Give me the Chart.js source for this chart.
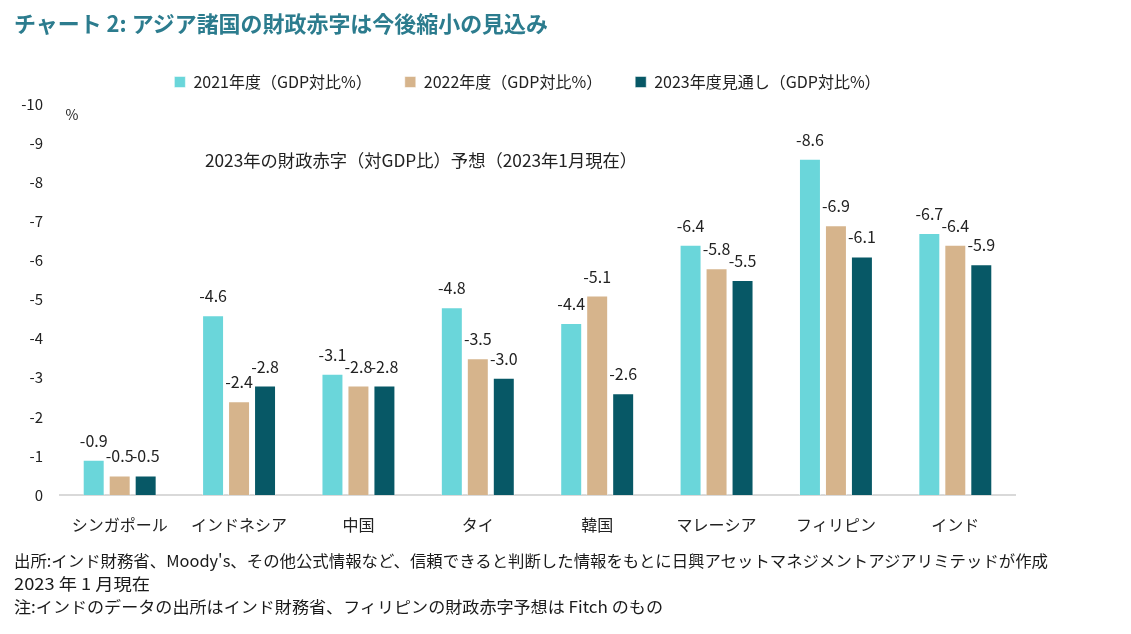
<!DOCTYPE html>
<html lang="ja">
<head>
<meta charset="utf-8">
<script src="https://cdn.jsdelivr.net/npm/chart.js@4.4.0/dist/chart.umd.min.js"></script>
<style>
  html, body { margin: 0; padding: 0; background: #fff; }
  #wrap { position: relative; width: 1131px; height: 634px; overflow: hidden; }
  #chart { position: absolute; left: 0; top: 0; }
  .txt { position: absolute; left: 14px; white-space: nowrap; transform-origin: left center; }
  #title { top: 6px; font: bold 22px "Noto Sans CJK JP", sans-serif; color: #2C7C8E; }
  .note { font: 16px "Noto Sans CJK JP", sans-serif; color: #1a1a1a; }
</style>
</head>
<body>
<div id="wrap">
  <canvas id="chart" width="1131" height="634"></canvas>
  <div id="title" class="txt" data-w="534">チャート 2: アジア諸国の財政赤字は今後縮小の見込み</div>
  <div class="txt note" style="top:548px" data-w="1034">出所:インド財務省、Moody's、その他公式情報など、信頼できると判断した情報をもとに日興アセットマネジメントアジアリミテッドが作成</div>
  <div class="txt note" style="top:571px" data-w="136">2023 年 1 月現在</div>
  <div class="txt note" style="top:594px" data-w="649">注:インドのデータの出所はインド財務省、フィリピンの財政赤字予想は Fitch のもの</div>
</div>
<script>
const countries = ['シンガポール', 'インドネシア', '中国', 'タイ', '韓国', 'マレーシア', 'フィリピン', 'インド'];
const seriesNames = ['2021年度（GDP対比%）', '2022年度（GDP対比%）', '2023年度見通し（GDP対比%）'];
const fy2021 = [-0.9, -4.6, -3.1, -4.8, -4.4, -6.4, -8.6, -6.7];
const fy2022 = [-0.5, -2.4, -2.8, -3.5, -5.1, -5.8, -6.9, -6.4];
const fy2023 = [-0.5, -2.8, -2.8, -3.0, -2.6, -5.5, -6.1, -5.9];
const colors = ['#6AD6DA', '#D6B48C', '#075866'];
const subtitle = '2023年の財政赤字（対GDP比）予想（2023年1月現在）';

const font = '"Noto Sans CJK JP", sans-serif';

// squeeze html text lines to the widths in the original
document.querySelectorAll('.txt').forEach(el => {
  const w = el.getBoundingClientRect().width;
  el.style.transform = 'scaleX(' + (el.dataset.w / w) + ')';
});

// fixed legend height so the plot top lands where it should, and nudge it right
const legendPlace = {
  id: 'legendPlace',
  beforeInit(chart) {
    const fit = chart.legend.fit;
    chart.legend.fit = function () {
      fit.call(this);
      this.height = 63;
    };
  },
  afterLayout(chart) {
    chart.legend.left += 20;
    chart.legend.right += 20;
  }
};

const barLabels = {
  id: 'barLabels',
  afterDatasetsDraw(chart) {
    const ctx = chart.ctx;
    ctx.save();
    ctx.font = '16px ' + font;
    ctx.fillStyle = '#222';
    ctx.textAlign = 'center';
    ctx.textBaseline = 'alphabetic';
    chart.data.datasets.forEach((ds, i) => {
      chart.getDatasetMeta(i).data.forEach((bar, j) => {
        ctx.fillText(ds.data[j].toFixed(1), bar.x, bar.y - 13);
      });
    });
    // note inside the plot + unit
    ctx.font = '17.3px ' + font;
    ctx.fillText(subtitle, 421, 167);
    ctx.font = '14px ' + font;
    ctx.fillText('%', 72, 120);
    ctx.restore();
  }
};

new Chart(document.getElementById('chart'), {
  type: 'bar',
  data: {
    labels: countries,
    datasets: [fy2021, fy2022, fy2023].map((d, i) => ({
      label: seriesNames[i],
      data: d,
      backgroundColor: colors[i],
      borderColor: 'rgba(255,255,255,0.5)',
      borderWidth: 1,
      categoryPercentage: 0.653,
      barPercentage: 0.846
    }))
  },
  options: {
    responsive: false,
    animation: false,
    layout: { padding: { left: 0, right: 116, top: 41, bottom: 99 } },
    plugins: {
      legend: {
        position: 'top',
        labels: {
          boxWidth: 11,
          boxHeight: 11,
          padding: 33,
          color: '#222',
          font: { family: font, size: 16 }
        }
      },
      tooltip: { enabled: false }
    },
    scales: {
      x: {
        grid: { display: false },
        border: { color: '#D9D9D9', width: 2 },
        ticks: { color: '#222', font: { family: font, size: 16 }, padding: 12 },
        afterFit(s) { s.height = 40; }
      },
      y: {
        min: -10,
        max: 0,
        reverse: true,
        grid: { display: false, drawTicks: false },
        border: { display: false },
        ticks: { stepSize: 1, color: '#222', font: { family: font, size: 15 }, padding: 17 },
        afterFit(s) { s.width = 60; }
      }
    }
  },
  plugins: [legendPlace, barLabels]
});
</script>
</body>
</html>
